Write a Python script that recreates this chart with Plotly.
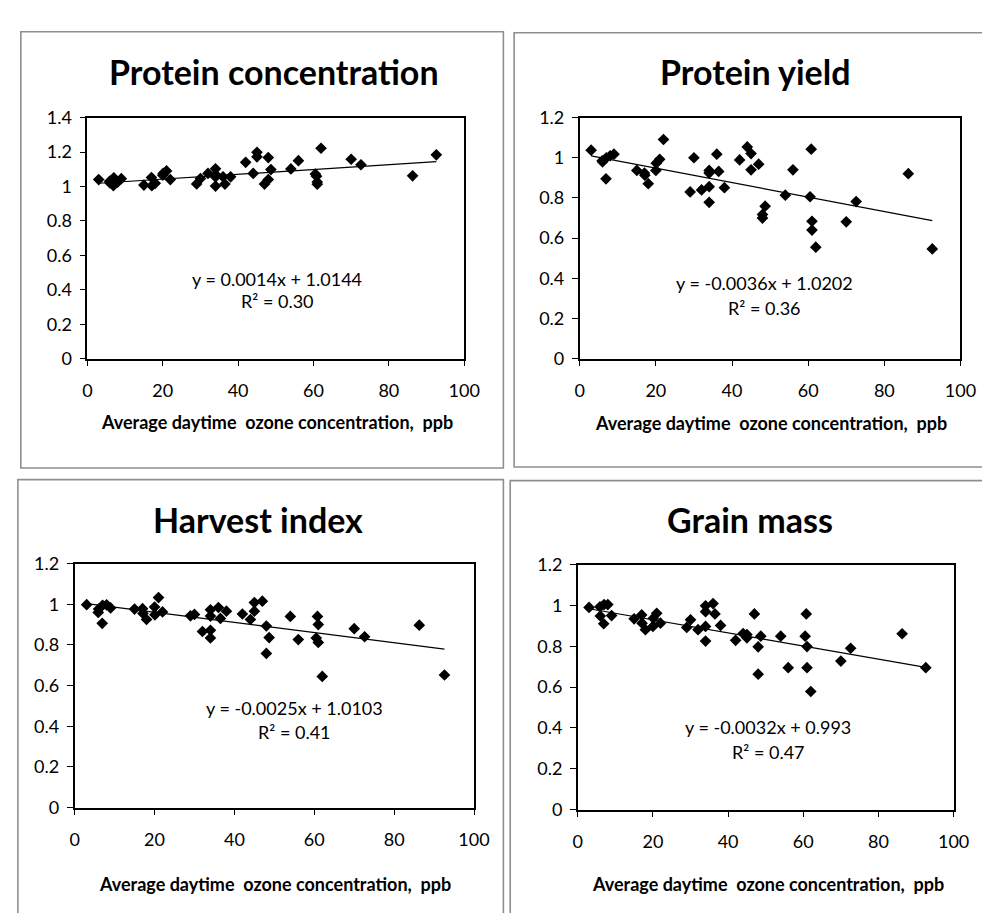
import plotly.graph_objects as go

W, H = 990, 913

# ---------------- data ----------------
ozone = [3.0, 5.9, 6.0, 6.9, 7.0, 8.0, 9.0, 15.0, 17.0, 17.1, 18.0, 20.0, 20.1, 21.0, 22.0,
         29.0, 30.0, 32.0, 34.0, 34.0, 34.0, 34.0, 36.0, 36.5, 38.0, 42.0, 44.0, 45.0, 45.0,
         47.0, 48.0, 48.0, 48.7, 54.0, 56.0, 60.5, 60.8, 61.0, 61.0, 62.0, 70.0, 72.6, 86.3, 92.6]

protein_conc = [1.040, 1.030, 1.020, 1.005, 1.050, 1.025, 1.045, 1.008, 1.052, 1.004, 1.018,
                1.065, 1.076, 1.090, 1.040, 1.015, 1.046, 1.076, 1.103, 1.070, 1.055, 1.002,
                1.056, 1.014, 1.056, 1.140, 1.076, 1.198, 1.172, 1.014, 1.040, 1.168, 1.098,
                1.102, 1.150, 1.072, 1.060, 1.026, 1.013, 1.222, 1.158, 1.126, 1.062, 1.184]

protein_yield = [1.038, 0.985, 0.980, 0.895, 1.000, 1.010, 1.018, 0.937, 0.924, 0.913, 0.871,
                 0.937, 0.973, 0.992, 1.091, 0.830, 1.000, 0.840, 0.937, 0.924, 0.856, 0.778,
                 1.018, 0.932, 0.851, 0.989, 1.054, 1.021, 0.940, 0.968, 0.717, 0.700, 0.759,
                 0.814, 0.940, 0.806, 1.043, 0.684, 0.640, 0.555, 0.681, 0.782, 0.921, 0.546]

harvest_index = [0.998, 0.960, 0.976, 0.906, 0.995, 0.997, 0.982, 0.976, 0.978, 0.955, 0.925,
                 0.986, 0.948, 1.033, 0.962, 0.943, 0.950, 0.866, 0.973, 0.942, 0.872, 0.834,
                 0.984, 0.930, 0.966, 0.952, 0.925, 1.008, 0.966, 1.015, 0.893, 0.758, 0.836,
                 0.940, 0.826, 0.834, 0.940, 0.900, 0.812, 0.645, 0.880, 0.840, 0.897, 0.652]

grain_mass = [0.990, 0.993, 0.948, 0.910, 1.004, 1.004, 0.950, 0.934, 0.953, 0.913, 0.881,
              0.897, 0.937, 0.961, 0.913, 0.892, 0.929, 0.881, 0.998, 0.969, 0.897, 0.825,
              1.009, 0.958, 0.902, 0.829, 0.862, 0.841, 0.857, 0.958, 0.797, 0.663, 0.849,
              0.849, 0.695, 0.849, 0.958, 0.798, 0.695, 0.578, 0.727, 0.790, 0.861, 0.695]

titles = ["Protein concentration", "Protein yield", "Harvest index", "Grain mass"]
slopes = [0.0014, -0.0036, -0.0025, -0.0032]
intercepts = [1.0144, 1.0202, 1.0103, 0.993]
eq_labels = ["y = 0.0014x + 1.0144", "y = -0.0036x + 1.0202",
             "y = -0.0025x + 1.0103", "y = -0.0032x + 0.993"]
r2_labels = ["R² = 0.30", "R² = 0.36", "R² = 0.41", "R² = 0.47"]
y_max = [1.4, 1.2, 1.2, 1.2]
x_title = "Average daytime\u00a0\u00a0ozone concentration,\u00a0\u00a0ppb"
series = [protein_conc, protein_yield, harvest_index, grain_mass]

# ---------------- layout geometry (pixels) ----------------
plot_boxes = [(76, 461, 100, 347), (579, 968, 100, 347),
              (63, 471, 557, 807), (577, 961, 558, 809)]
frames = [(8, 501, 12, 459), (512, 1000, 13, 458),
          (5, 501, 471, 930), (508, 1000, 472, 930)]
title_pos = [(267, 53), (759, 53), (250, 512), (753, 512)]
xtitle_pos = [(270, 412), (774, 413), (268, 885), (771, 885)]
eq_pos = [(50.4, 0.465, 0.335), (48.5, 0.377, 0.253),
          (55.0, 0.490, 0.370), (50.7, 0.402, 0.282)]

FONT = "Lato, 'Open Sans', sans-serif"


def px(x):
    return x / W


def py(y):
    return 1 - y / H


fig = go.Figure()
shapes = []
annotations = []

for i in range(4):
    ax = "" if i == 0 else str(i + 1)
    xa, ya = "x" + ax, "y" + ax
    ys = series[i]
    fig.add_trace(go.Scatter(
        x=ozone, y=ys, mode="markers", xaxis=xa, yaxis=ya,
        marker=dict(symbol="diamond", size=9, color="black"),
        showlegend=False, hoverinfo="x+y"))
    xmin, xmax = min(ozone), max(ozone)
    fig.add_trace(go.Scatter(
        x=[xmin, xmax],
        y=[slopes[i] * xmin + intercepts[i], slopes[i] * xmax + intercepts[i]],
        mode="lines", xaxis=xa, yaxis=ya,
        line=dict(color="black", width=1.2),
        showlegend=False, hoverinfo="skip"))

    l, r, t, b = plot_boxes[i]
    axis_common = dict(showline=True, linecolor="black", linewidth=1.6, mirror=True,
                       ticks="outside", ticklen=6, tickcolor="black", tickwidth=1.3,
                       showgrid=False, zeroline=False,
                       tickfont=dict(family=FONT, size=18, color="black"))
    fig.layout["xaxis" + ax] = dict(domain=[px(l), px(r)], range=[0, 100], dtick=20,
                                    tick0=0, anchor=ya, ticklabelstandoff=9,
                                    **axis_common)
    fig.layout["yaxis" + ax] = dict(domain=[py(b), py(t)], range=[0, y_max[i]], dtick=0.2,
                                    tick0=0, anchor=xa, ticklabelstandoff=4,
                                    **axis_common)

    fl, fr, ft, fb = frames[i]
    shapes.append(dict(type="rect", xref="paper", yref="paper",
                       x0=px(fl), x1=px(fr), y0=py(fb), y1=py(ft),
                       line=dict(color="#8f8f8f", width=1.6), fillcolor="rgba(0,0,0,0)",
                       layer="below"))

    tx, ty = title_pos[i]
    annotations.append(dict(text="<b>" + titles[i] + "</b>", xref="paper", yref="paper",
                            x=px(tx), y=py(ty), xanchor="center", yanchor="middle",
                            showarrow=False, font=dict(family=FONT, size=34, color="black")))
    qx, qy = xtitle_pos[i]
    annotations.append(dict(text="<b>" + x_title + "</b>", xref="paper", yref="paper",
                            x=px(qx), y=py(qy), xanchor="center", yanchor="middle",
                            showarrow=False, font=dict(family=FONT, size=18, color="black")))
    ex, ey1, ey2 = eq_pos[i]
    annotations.append(dict(text=eq_labels[i], xref=xa, yref=ya, x=ex, y=ey1,
                            xanchor="center", yanchor="middle", showarrow=False,
                            font=dict(family=FONT, size=18, color="black")))
    annotations.append(dict(text=r2_labels[i], xref=xa, yref=ya, x=ex, y=ey2,
                            xanchor="center", yanchor="middle", showarrow=False,
                            font=dict(family=FONT, size=18, color="black")))

fig.update_layout(width=W, height=H, margin=dict(l=0, r=0, t=0, b=0),
                  paper_bgcolor="white", plot_bgcolor="white",
                  shapes=shapes, annotations=annotations, showlegend=False)

fig.write_html("out.html")
